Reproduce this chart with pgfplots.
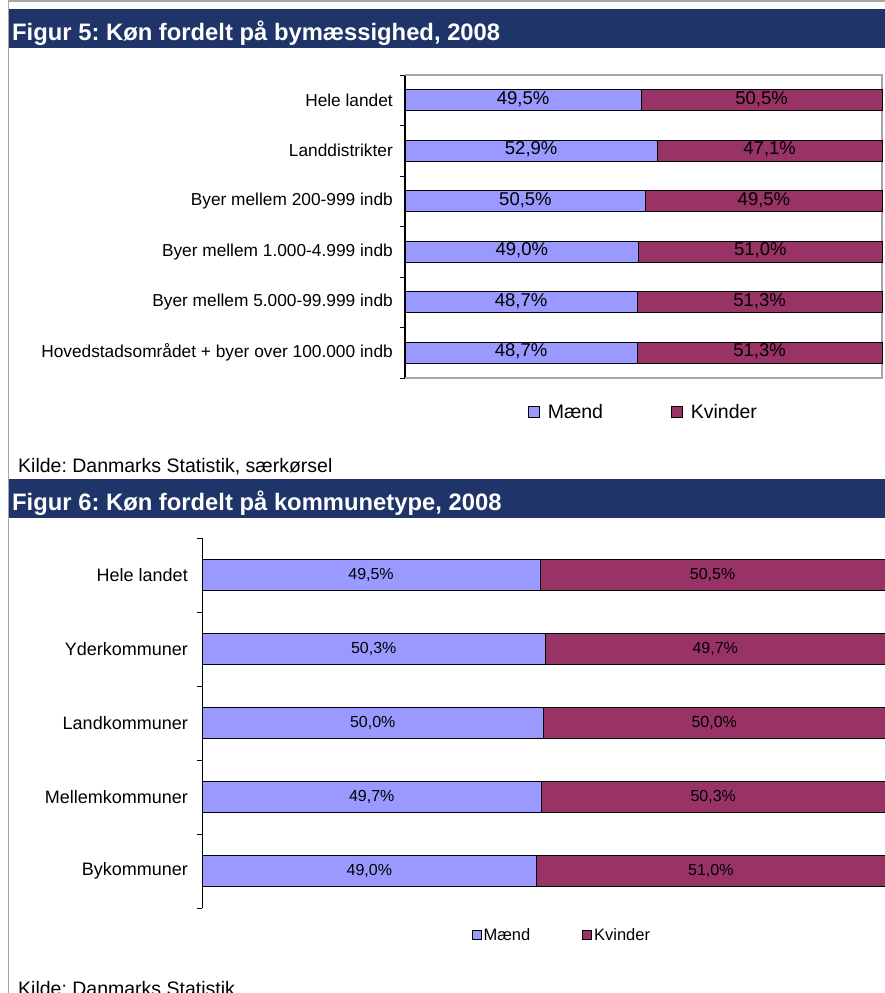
\documentclass[border=0pt]{standalone}
\usepackage{pgfplots}
\pgfplotsset{compat=1.18}
\usepackage{pgfplotstable}
\usepackage{fontspec}
\setmainfont{Liberation Sans}
\frenchspacing
\definecolor{maend}{HTML}{9999FF}
\definecolor{kvinder}{HTML}{993366}
\definecolor{banner}{HTML}{1F3468}
\newcommand\fs[1]{\fontsize{#1}{#1}\selectfont}

\pgfplotstableread{
pos m k
0 49.5 50.5
1 52.9 47.1
2 50.5 49.5
3 49.0 51.0
4 48.7 51.3
5 48.7 51.3
}\tabA
\pgfplotstableread{
pos m k
0 49.5 50.5
1 50.3 49.7
2 50.0 50.0
3 49.7 50.3
4 49.0 51.0
}\tabB

\pgfplotsset{
  mylegimg/.style={legend image code/.code={\draw[##1, line width=0.8pt] (0pt,-#1) rectangle (2*#1,#1);}},
}

\begin{document}
\begin{tikzpicture}
\useasboundingbox (0,0) rectangle (885pt,-993pt);
\clip (0,0) rectangle (885pt,-993pt);
% frame lines
\draw[gray!70, line width=1.6pt] (8.5pt,-993pt) -- (8.5pt,-1.2pt) -- (885pt,-1.2pt);
% banners
\fill[banner] (9.3pt,-9pt) rectangle (885pt,-48pt);
\node[anchor=base west, text=white, font=\fs{23.8}\bfseries, inner sep=0pt] at (12pt,-40pt) {Figur 5: Køn fordelt på bymæssighed, 2008};
\fill[banner] (9.3pt,-479pt) rectangle (885pt,-518pt);
\node[anchor=base west, text=white, font=\fs{23.8}\bfseries, inner sep=0pt] at (12pt,-510pt) {Figur 6: Køn fordelt på kommunetype, 2008};
\node[anchor=base west, font=\fs{19.5}, inner sep=0pt] at (18pt,-472pt) {Kilde: Danmarks Statistik, særkørsel};
\node[anchor=base west, font=\fs{19.5}, inner sep=0pt] at (18pt,-995pt) {Kilde: Danmarks Statistik};

% Figure 5
\begin{axis}[
  at={(405pt,-75pt)}, anchor=north west, scale only axis,
  width=477pt, height=303pt,
  xbar stacked, bar width=21pt,
  xmin=0, xmax=100, ymin=-0.5, ymax=5.5, y dir=reverse,
  axis x line=none, axis y line*=left,
  y axis line style={black, line width=1.2pt},
  ytick={0,...,5},
  yticklabels={Hele landet, Landdistrikter, Byer mellem 200-999 indb, Byer mellem 1.000-4.999 indb, Byer mellem 5.000-99.999 indb, Hovedstadsområdet + byer over 100.000 indb},
  major tick length=0pt,
  minor ytick={-0.5,0.5,...,5.5}, minor tick length=5pt, tick align=outside,
  minor tick style={black, line width=0.8pt},
  yticklabel style={font=\fs{17.3}, inner sep=0pt, xshift=-12pt},
  clip=false,
  visualization depends on=rawx \as \rawx,
  nodes near coords={\pgfmathprintnumber[fixed,fixed zerofill,precision=1,use comma,assume math mode=true]{\rawx}\%},
  every node near coord/.append style={anchor=center, yshift=1.5pt, font=\fs{18.5}, text=black, inner sep=0pt},
  legend style={at={(0.5,-0.112)}, anchor=center, draw=none, fill=none, font=\fs{19.5}, legend columns=2,
    /tikz/every odd column/.append style={column sep=6pt},
    /tikz/every even column/.append style={column sep=66pt}, inner sep=0pt},
  mylegimg=5.5pt,
]
\addplot[fill=maend, draw=black, line width=0.9pt] table[x=m, y=pos]{\tabA};
\addplot[fill=kvinder, draw=black, line width=0.9pt] table[x=k, y=pos]{\tabA};
\draw[gray!70, line width=1.3pt] (axis cs:0,-0.5) -- (axis cs:100,-0.5) -- (axis cs:100,5.5) -- (axis cs:0,5.5);
\draw[black, line width=1.2pt] (axis cs:0,-0.5) -- (axis cs:0,5.5);
\legend{Mænd, Kvinder}
\end{axis}

% Figure 6
\begin{axis}[
  at={(202pt,-538pt)}, anchor=north west, scale only axis,
  width=683pt, height=370pt,
  xbar stacked, bar width=31pt,
  xmin=0, xmax=100, ymin=-0.5, ymax=4.5, y dir=reverse,
  axis x line=none, axis y line*=left,
  y axis line style={black, line width=1pt},
  ytick={0,...,4},
  yticklabels={Hele landet, Yderkommuner, Landkommuner, Mellemkommuner, Bykommuner},
  major tick length=0pt,
  minor ytick={-0.5,0.5,...,4.5}, minor tick length=5pt, tick align=outside,
  minor tick style={black, line width=0.8pt},
  yticklabel style={font=\fs{18}, inner sep=0pt, xshift=-14pt},
  clip=false,
  visualization depends on=rawx \as \rawx,
  nodes near coords={\pgfmathprintnumber[fixed,fixed zerofill,precision=1,use comma,assume math mode=true]{\rawx}\%},
  every node near coord/.append style={anchor=center, font=\fs{16}, text=black, inner sep=0pt},
  legend style={at={(0.527,-0.073)}, anchor=center, draw=none, fill=none, font=\fs{16.5}, legend columns=2,
    /tikz/every even column/.append style={column sep=50pt}, inner sep=0pt},
  mylegimg=4.5pt,
]
\addplot[fill=maend, draw=black, line width=0.8pt] table[x=m, y=pos]{\tabB};
\addplot[fill=kvinder, draw=black, line width=0.8pt] table[x=k, y=pos]{\tabB};
\draw[black, line width=1pt] (axis cs:0,-0.5) -- (axis cs:0,4.5);
\legend{Mænd, Kvinder}
\end{axis}
\end{tikzpicture}
\end{document}
